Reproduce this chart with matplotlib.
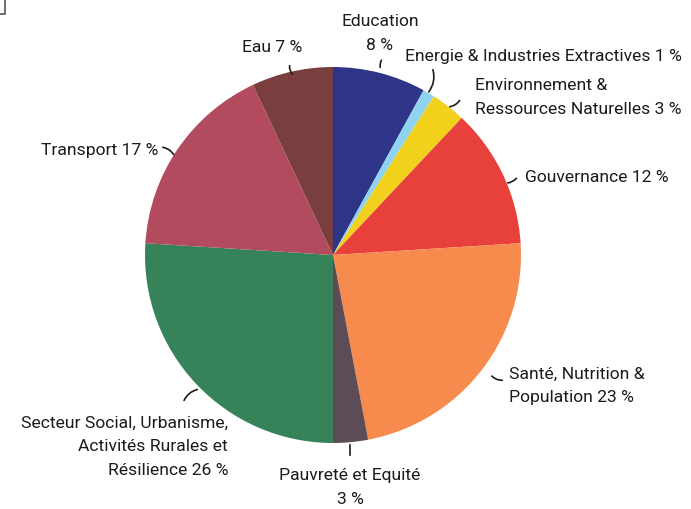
import matplotlib
matplotlib.use("Agg")
import matplotlib.pyplot as plt
import numpy as np

plt.rcParams['font.family'] = ['Roboto', 'DejaVu Sans']

sectors = ["Education", "Energie & Industries Extractives",
           "Environnement & Ressources Naturelles", "Gouvernance",
           "Santé, Nutrition & Population", "Pauvreté et Equité",
           "Secteur Social, Urbanisme, Activités Rurales et Résilience",
           "Transport", "Eau"]
shares = [8, 1, 3, 12, 23, 3, 26, 17, 7]
colors = ["#2e3589", "#8fd3f3", "#f1d11b", "#e8413b", "#f68b4d",
          "#5d4b55", "#368259", "#b34b5f", "#793f3f"]
label_texts = ["Education\n8 %", "Energie & Industries Extractives 1 %",
               "Environnement &\nRessources Naturelles 3 %", "Gouvernance 12 %",
               "Santé, Nutrition &\nPopulation 23 %", "Pauvreté et Equité\n3 %",
               "Secteur Social, Urbanisme,\nActivités Rurales et\nRésilience 26 %",
               "Transport 17 %", "Eau 7 %"]

W, H = 691, 510
fig = plt.figure(figsize=(W / 100, H / 100), dpi=100)
cx, cy, r = 333, 256, 188
ax = fig.add_axes([(cx - r) / W, (H - cy - r) / H, 2 * r / W, 2 * r / H])
ax.pie(shares, colors=colors, startangle=90, counterclock=False,
       radius=1, wedgeprops=dict(linewidth=0))
ax.set_xlim(-1, 1)
ax.set_ylim(-1, 1)
ax.set_aspect('equal')
ax.axis('off')

def px(x, y):
    return (x / W, 1 - y / H)

txt_color = "#1e1a1b"
fs = 12.6
# (text pos px, ha, leader start px, leader end px, rad)
layout = [
    ((380, 34), 'center', (383, 59), (381, 71), 0.3),
    ((405, 56), 'left', (432, 68), (427, 95), -0.3),
    ((475, 97), 'left', (461, 99), (447, 108), -0.3),
    ((525, 178), 'left', (518, 177), (505, 184), -0.3),
    ((509, 386), 'left', (505, 381), (490, 375), -0.3),
    ((350, 488), 'center', (350, 459), (350, 443), 0.0),
    ((228, 447), 'right', (183, 404), (200, 390), -0.3),
    ((158, 150), 'right', (160, 148), (175, 158), -0.3),
    ((302, 47), 'right', (290, 64), (294, 77), 0.3),
]

for text, (tp, ha, ls, le, rad) in zip(label_texts, layout):
    fig.text(*px(*tp), text, ha=ha, va='center', fontsize=fs, color=txt_color,
             linespacing=1.75, multialignment=ha)
    fig.add_artist(matplotlib.patches.FancyArrowPatch(
        px(*ls), px(*le), transform=fig.transFigure, arrowstyle='-',
        connectionstyle=f"arc3,rad={rad}", color=txt_color, lw=1.2))

# corner mark
fig.add_artist(matplotlib.lines.Line2D([0, 5 / W, 5 / W], [1 - 15 / H, 1 - 15 / H, 1],
                                       transform=fig.transFigure, color="#555555", lw=1.2))

fig.savefig("out.png", dpi=100)
